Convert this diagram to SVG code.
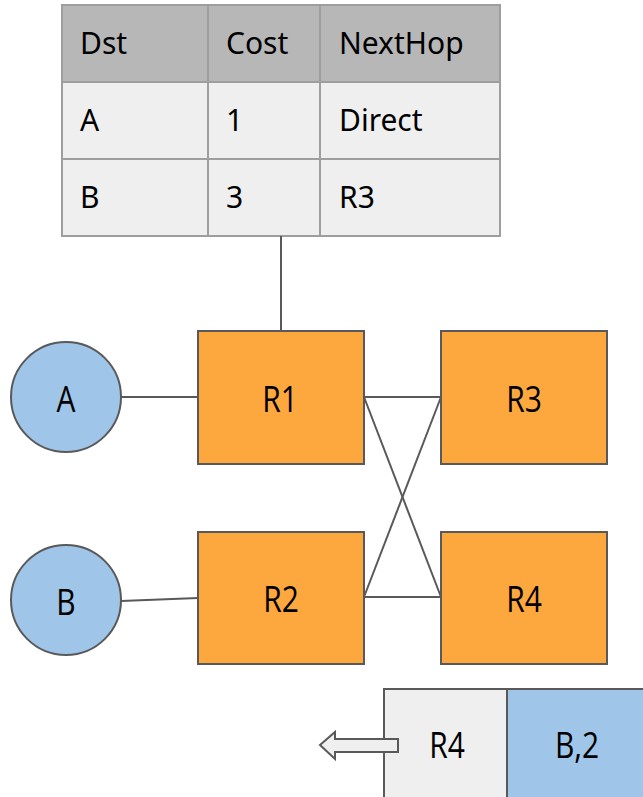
<svg xmlns="http://www.w3.org/2000/svg" width="643" height="797" viewBox="0 0 643 797">
  <style>
    .cell-h { fill: #b7b7b7; stroke: #9e9e9e; stroke-width: 2; }
    .cell { fill: #efefef; stroke: #9e9e9e; stroke-width: 2; }
    .ttxt { font-family: "Noto Sans", "Open Sans", sans-serif; font-size: 30px; fill: #000; }
    .router { fill: #fca83f; stroke: #595959; stroke-width: 2; }
    .host { fill: #9fc5e8; stroke: #595959; stroke-width: 2; }
    .label { font-family: "Open Sans", "Noto Sans", sans-serif; font-size: 37px; fill: #000; text-anchor: middle; }
    .link { stroke: #595959; stroke-width: 2; fill: none; }
  </style>

  <!-- routing table -->
  <g id="table">
    <rect class="cell-h" x="62" y="5" width="146" height="77"/>
    <rect class="cell-h" x="208" y="5" width="112" height="77"/>
    <rect class="cell-h" x="320" y="5" width="180" height="77"/>
    <rect class="cell" x="62" y="82" width="146" height="77"/>
    <rect class="cell" x="208" y="82" width="112" height="77"/>
    <rect class="cell" x="320" y="82" width="180" height="77"/>
    <rect class="cell" x="62" y="159" width="146" height="77"/>
    <rect class="cell" x="208" y="159" width="112" height="77"/>
    <rect class="cell" x="320" y="159" width="180" height="77"/>
    <text class="ttxt" x="80" y="54">Dst</text>
    <text class="ttxt" x="226" y="54">Cost</text>
    <text class="ttxt" x="339" y="54">NextHop</text>
    <text class="ttxt" x="80" y="131">A</text>
    <text class="ttxt" x="226" y="131">1</text>
    <text class="ttxt" x="339" y="131">Direct</text>
    <text class="ttxt" x="80" y="208">B</text>
    <text class="ttxt" x="226" y="208">3</text>
    <text class="ttxt" x="339" y="208">R3</text>
  </g>

  <!-- links -->
  <g id="connectors">
    <line class="link" x1="281" y1="236" x2="281" y2="331"/>
    <line class="link" x1="121" y1="397" x2="198" y2="397"/>
    <line class="link" x1="121" y1="601" x2="198" y2="598"/>
    <line class="link" x1="364" y1="397" x2="441" y2="397"/>
    <line class="link" x1="364" y1="597" x2="441" y2="597"/>
    <line class="link" x1="364" y1="397" x2="441" y2="597"/>
    <line class="link" x1="364" y1="597" x2="441" y2="397"/>
  </g>

  <g id="hostA">
    <ellipse class="host" cx="66" cy="397" rx="55" ry="55"/>
    <text class="label" transform="translate(66,412) scale(0.81,1)">A</text>
  </g>
  <g id="hostB">
    <ellipse class="host" cx="66" cy="600" rx="55" ry="55"/>
    <text class="label" transform="translate(66,615) scale(0.81,1)">B</text>
  </g>
  <g id="R1">
    <rect class="router" x="198" y="331" width="166" height="133"/>
    <text class="label" transform="translate(280,412) scale(0.81,1)">R1</text>
  </g>
  <g id="R3">
    <rect class="router" x="441" y="331" width="166" height="133"/>
    <text class="label" transform="translate(524,412) scale(0.81,1)">R3</text>
  </g>
  <g id="R2">
    <rect class="router" x="198" y="532" width="166" height="132"/>
    <text class="label" transform="translate(281,612) scale(0.81,1)">R2</text>
  </g>
  <g id="R4">
    <rect class="router" x="441" y="532" width="166" height="132"/>
    <text class="label" transform="translate(524,612) scale(0.81,1)">R4</text>
  </g>

  <!-- advertisement packet -->
  <g id="packet">
    <rect x="384" y="689" width="123" height="112" fill="#efefef" stroke="#595959" stroke-width="2"/>
    <rect x="507" y="689" width="140" height="112" fill="#9fc5e8" stroke="#595959" stroke-width="2"/>
    <text class="label" transform="translate(447,758) scale(0.81,1)">R4</text>
    <text class="label" transform="translate(577,758) scale(0.81,1)">B,2</text>
    <polygon points="320,745 335,732 335,739 398,739 398,752 335,752 335,759" fill="#efefef" stroke="#595959" stroke-width="2"/>
  </g>
</svg>
